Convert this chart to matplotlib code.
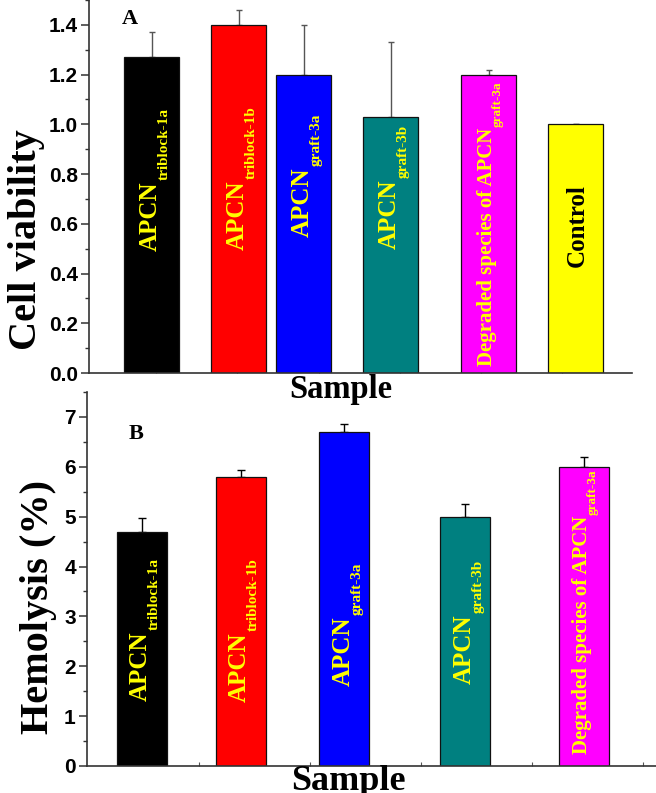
import numpy as np
import matplotlib
matplotlib.use("Agg")
import matplotlib.pyplot as plt
from matplotlib.ticker import MultipleLocator

# --- data ---
# bar label = (main text, subscript)
labels_a = [
    ("APCN", "triblock-1a"),
    ("APCN", "triblock-1b"),
    ("APCN", "graft-3a"),
    ("APCN", "graft-3b"),
    ("Degraded species of APCN", "graft-3a"),
    ("Control", ""),
]
viability = [1.27, 1.40, 1.20, 1.03, 1.20, 1.00]
viability_err = [0.10, 0.06, 0.20, 0.30, 0.02, 0.0]

labels_b = labels_a[:5]
hemolysis = [4.70, 5.80, 6.70, 5.00, 6.00]
hemolysis_err = [0.27, 0.14, 0.15, 0.26, 0.19]

colors = ["#000000", "#FF0000", "#0000FF", "#008080", "#FF00FF", "#FFFF00"]
text_colors = ["#FFFF00"] * 5 + ["#000000"]

# --- layout (x slots along the axis, label split heights as axes fraction) ---
pos_a = [62.5, 149.5, 214.5, 301.5, 400, 487]
pos_b = [55, 154, 257.5, 378.5, 497]
label_y_a = [0.515, 0.517, 0.551, 0.520, 0.658, 0.394]
label_y_b = [0.361, 0.358, 0.401, 0.406, 0.668]

SERIF = "Liberation Serif"
SANS = "Liberation Sans"


def style_axes(ax):
    for side in ["top", "right"]:
        ax.spines[side].set_visible(False)
    for side in ["left", "bottom"]:
        ax.spines[side].set_linewidth(1.2)
        ax.spines[side].set_color("#333333")
    ax.tick_params(axis="y", which="major", direction="out", length=6, width=1.1,
                   color="#333333", pad=2)
    ax.tick_params(axis="y", which="minor", direction="out", length=3, width=1.0,
                   color="#333333")
    ax.tick_params(axis="x", which="both", direction="in", length=3, width=0.8,
                   color="#555555", labelbottom=False)
    for t in ax.get_yticklabels():
        t.set_fontfamily(SANS)
        t.set_fontweight("bold")
        t.set_fontsize(15)


def bar_label(ax, x, y, main, sub, color):
    tr = ax.get_xaxis_transform()
    kw = dict(xycoords=tr, textcoords="offset pixels", rotation=90,
              rotation_mode="anchor", color=color, fontfamily=SERIF,
              fontweight="bold", zorder=3, annotation_clip=False)
    if not sub:
        ax.annotate(main, xy=(x, y), xytext=(1, 0), ha="center", va="center",
                    fontsize=18, **kw)
        return
    if main.startswith("Degraded"):
        fmain, fsub, dx, drop = 15, 9.5, 3, 9
    else:
        fmain, fsub, dx, drop = 18, 11, 5, 11
    ax.annotate(main, xy=(x, y), xytext=(dx, 0), ha="right", va="baseline",
                fontsize=fmain, **kw)
    ax.annotate(sub, xy=(x, y), xytext=(dx + drop, 1), ha="left", va="baseline",
                fontsize=fsub, **kw)


def bar_panel(ax, pos, vals, errs, width, labels, label_y, ecolor, capsize):
    n = len(vals)
    ax.bar(pos, vals, width=width, color=colors[:n], edgecolor="#111111",
           linewidth=0.9, zorder=2)
    errs = np.asarray(errs)
    ax.errorbar(pos, vals, yerr=[np.zeros(n), errs], fmt="none", ecolor=ecolor,
                elinewidth=1.0, capsize=capsize, capthick=1.0, zorder=1)
    for x, (main, sub), ly, tc in zip(pos, labels, label_y, text_colors):
        bar_label(ax, x, ly, main, sub, tc)


fig = plt.figure(figsize=(6.56, 7.93), dpi=100)

# Panel A: cell viability
ax1 = fig.add_axes([0.1357, 0.5296, 0.8277, 0.4704])
bar_panel(ax1, pos_a, viability, viability_err, 55, labels_a, label_y_a,
          "#555555", 2.5)
ax1.set_xlim(0, 543)
ax1.set_ylim(0, 1.5)
ax1.set_yticks([0.0, 0.2, 0.4, 0.6, 0.8, 1.0, 1.2, 1.4])
ax1.set_yticklabels(["0.0", "0.2", "0.4", "0.6", "0.8", "1.0", "1.2", "1.4"])
ax1.yaxis.set_minor_locator(MultipleLocator(0.1))
ax1.set_xticks(np.arange(67, 543, 81.25))
style_axes(ax1)
ax1.set_ylabel("Cell viability", fontfamily=SERIF, fontweight="bold", fontsize=29)
ax1.yaxis.set_label_coords(-0.081, 0.357)
ax1.text(0.0746, 0.950, "A", transform=ax1.transAxes, ha="center", va="center",
         fontfamily=SERIF, fontweight="bold", fontsize=16)

# Panel B: hemolysis
ax2 = fig.add_axes([0.1326, 0.03405, 0.8674, 0.4716])
ax2.patch.set_alpha(0)
bar_panel(ax2, pos_b, hemolysis, hemolysis_err, 50, labels_b, label_y_b,
          "#000000", 3)
ax2.set_xlim(0, 569)
ax2.set_ylim(0, 7.5)
ax2.set_yticks(range(0, 8))
ax2.yaxis.set_minor_locator(MultipleLocator(0.5))
ax2.set_xticks(np.arange(112, 569, 111))
style_axes(ax2)
ax2.set_ylabel("Hemolysis (%)", fontfamily=SERIF, fontweight="bold", fontsize=29)
ax2.yaxis.set_label_coords(-0.053, 0.425)
ax2.text(0.086, 0.889, "B", transform=ax2.transAxes, ha="center", va="center",
         fontfamily=SERIF, fontweight="bold", fontsize=16)

# x-axis titles as figure text so they sit on top of both panels
fig.text(341 / 656, 1 - 389 / 793, "Sample", ha="center", va="center",
         fontfamily=SERIF, fontweight="bold", fontsize=23.5, zorder=5)
fig.text(348 / 656, 1 - 781 / 793, "Sample", ha="center", va="center",
         fontfamily=SERIF, fontweight="bold", fontsize=26, zorder=5)

fig.savefig("out.png", dpi=100)
